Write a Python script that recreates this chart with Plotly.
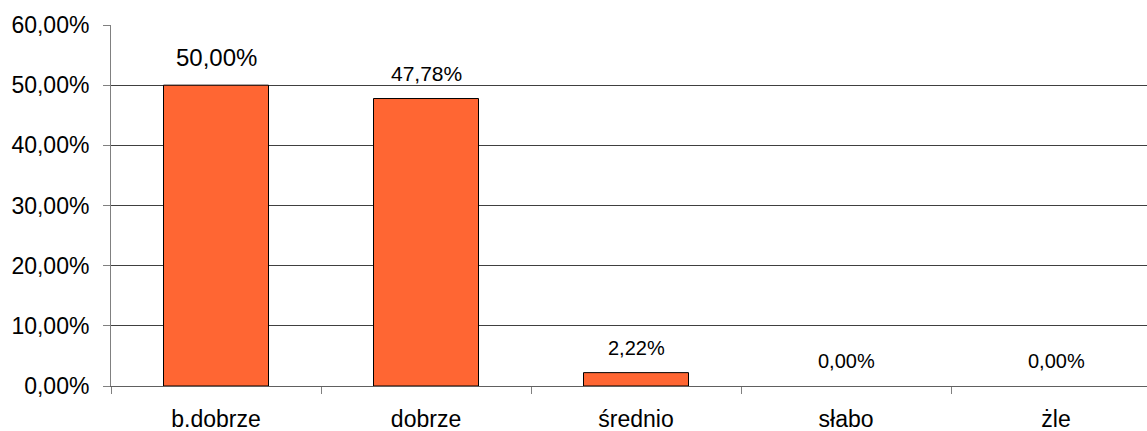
import plotly.graph_objects as go

categories = ["b.dobrze", "dobrze", "średnio", "słabo", "żle"]
values = [0.5000, 0.4778, 0.0222, 0.0, 0.0]
label_sizes = [24, 21, 20, 20, 20]
y_ticks = [0, 0.1, 0.2, 0.3, 0.4, 0.5, 0.6]

FONT = "Liberation Sans, Arial, sans-serif"

fig = go.Figure()
fig.add_trace(go.Bar(
    x=categories, y=values, width=0.5,
    marker=dict(color="#FF6633",
                line=dict(color="#000000", width=[1 if v > 0 else 0 for v in values])),
    hoverinfo="skip",
))

for c, v, s in zip(categories, values, label_sizes):
    fig.add_annotation(
        x=c, y=v, text=f"{v*100:.2f}%".replace(".", ","),
        showarrow=False, yanchor="bottom", yshift=12,
        font=dict(family=FONT, size=s, color="#000000"),
    )

fig.update_layout(
    width=1147, height=431,
    margin=dict(l=111, r=0, t=25, b=45),
    paper_bgcolor="white", plot_bgcolor="white",
    separators=", ",
    showlegend=False,
    font=dict(family=FONT, size=22, color="#000000"),
    bargap=0.5,
)
fig.update_xaxes(
    type="category", automargin=False,
    range=[-0.5, -0.5 + 1036 / 210],
    tickson="boundaries", ticks="outside", ticklen=7, tickcolor="#808080",
    showline=True, linecolor="#606060", linewidth=1,
    showgrid=False,
    tickfont=dict(size=23),
    ticklabelstandoff=12,
)
fig.update_yaxes(
    automargin=False,
    range=[0, 0.6], tickvals=y_ticks, tickformat=".2%",
    ticks="outside", ticklen=7, tickcolor="#808080",
    showline=True, linecolor="#808080", linewidth=1,
    showgrid=True, gridcolor="#404040", gridwidth=1,
    zeroline=False,
    tickfont=dict(size=23),
    ticklabelstandoff=9,
)

fig.write_html("out.html", config={"displayModeBar": False},
               post_script="document.body.style.margin='0';document.body.style.padding='0';")
